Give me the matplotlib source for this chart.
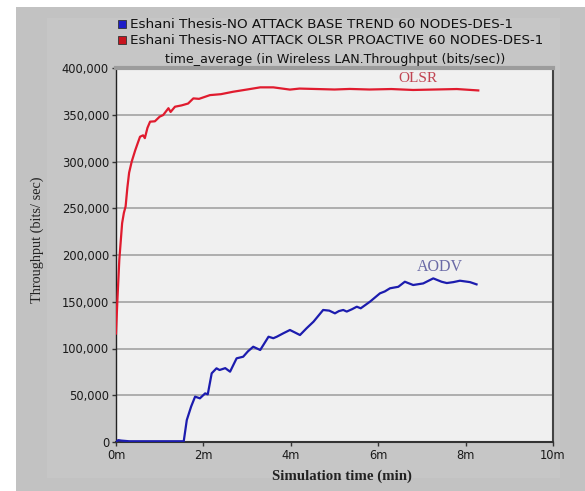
import matplotlib
matplotlib.use("Agg")
import matplotlib.pyplot as plt
from matplotlib.patches import Rectangle
from matplotlib.ticker import FuncFormatter

# Throughput over simulation time (minutes, bits/sec)
olsr_t = [0, 0.03, 0.076, 0.14, 0.18, 0.22, 0.26, 0.30, 0.36, 0.44, 0.50, 0.55,
          0.62, 0.66, 0.72, 0.78, 0.89, 1.0, 1.08, 1.2, 1.25, 1.35, 1.5, 1.65,
          1.77, 1.9, 2.15, 2.4, 2.68, 3.0, 3.3, 3.6, 3.98, 4.2, 4.6, 5.0, 5.35,
          5.8, 6.3, 6.8, 7.3, 7.8, 8.29]
olsr_v = [116000, 150000, 195000, 234000, 245000, 252000, 272000, 288000,
          300000, 312000, 320000, 326500, 328000, 325000, 336000, 342600,
          343000, 348000, 349700, 357000, 353000, 358600, 360000, 362000,
          367500, 367000, 371000, 372000, 374600, 377000, 379300, 379300,
          376900, 378000, 377500, 377000, 377600, 377000, 377500, 376500,
          377000, 377500, 376000]

aodv_t = [0, 0.05, 0.12, 0.3, 1.0, 1.55, 1.62, 1.72, 1.81, 1.92, 2.04, 2.10,
          2.19, 2.30, 2.37, 2.5, 2.61, 2.76, 2.91, 3.02, 3.14, 3.30, 3.49, 3.60,
          3.68, 3.83, 3.98, 4.10, 4.21, 4.36, 4.52, 4.74, 4.88, 5.01, 5.10, 5.20,
          5.28, 5.40, 5.51, 5.60, 5.81, 6.04, 6.15, 6.27, 6.46, 6.61, 6.80, 7.03,
          7.26, 7.45, 7.57, 7.72, 7.87, 8.1, 8.25]
aodv_v = [0, 2000, 1500, 800, 800, 800, 23500, 38000, 48500, 46700, 52000,
          51000, 73500, 78800, 77000, 79000, 75200, 89500, 91200, 97000,
          101900, 98400, 112600, 111000, 112600, 116300, 119800, 117000,
          114400, 121600, 128700, 141200, 140500, 137600, 140000, 141200,
          139500, 142000, 144700, 143000, 150000, 159000, 161000, 164400,
          166000, 171400, 167900, 169600, 175000, 171400, 170000, 171000,
          172500, 171000, 168600]

x_ticks = [0, 2, 4, 6, 8, 10]
x_tick_labels = ["0m", "2m", "4m", "6m", "8m", "10m"]
y_ticks = [0, 50000, 100000, 150000, 200000, 250000, 300000, 350000, 400000]

legend_labels = ["Eshani Thesis-NO ATTACK BASE TREND 60 NODES-DES-1",
                 "Eshani Thesis-NO ATTACK OLSR PROACTIVE 60 NODES-DES-1"]
title = "time_average (in Wireless LAN.Throughput (bits/sec))"

W, H = 585, 491
AX_L, AX_R, AX_T, AX_B = 116, 553, 68, 442
fig = plt.figure(figsize=(W / 100, H / 100), dpi=100, facecolor="white")

def fx(px):
    return px / W

def fy(py):
    return (H - py) / H

def ax_x(px):
    return (px - AX_L) / (AX_R - AX_L)

def ax_y(py):
    return (AX_B - py) / (AX_B - AX_T)

# grey panel behind everything
fig.patches.append(Rectangle((fx(16), 0), 1 - fx(16), fy(7), transform=fig.transFigure,
                             facecolor="#c2c2c2", edgecolor="none", zorder=-2))
fig.patches.append(Rectangle((fx(47), fy(478)), fx(560) - fx(47), fy(18) - fy(478),
                             transform=fig.transFigure,
                             facecolor="#c6c6c6", edgecolor="none", zorder=-1))

ax = fig.add_axes([fx(AX_L), fy(AX_B), fx(AX_R) - fx(AX_L), fy(AX_T) - fy(AX_B)])
ax.set_zorder(2)
ax.set_facecolor("#f0f0f0")
ax.set_xlim(0, 10)
ax.set_ylim(0, 400000)

for y in y_ticks[1:-1]:
    ax.axhline(y, color="#a9a9a9", lw=1.3, zorder=1)

ax.plot(olsr_t, olsr_v, color="#e01b2e", lw=1.6, zorder=3)
ax.plot(aodv_t, aodv_v, color="#1c1cae", lw=1.6, zorder=3)

ax.text(6.91, 389000, "OLSR", color="#c04452", fontsize=11,
        family="Liberation Serif", ha="center", va="center")
ax.text(7.41, 187000, "AODV", color="#6a6aa6", fontsize=11.5,
        family="Liberation Serif", ha="center", va="center")

ax.set_xticks(x_ticks)
ax.set_xticklabels(x_tick_labels)
ax.set_yticks(y_ticks)
ax.yaxis.set_major_formatter(FuncFormatter(lambda v, p: f"{int(v):,}"))
ax.tick_params(axis="both", direction="out", length=3, width=1, color="#333333",
               labelsize=8.3, labelcolor="#1a1a1a", pad=2)
for lab in ax.get_xticklabels() + ax.get_yticklabels():
    lab.set_family("DejaVu Sans")

ax.spines["left"].set_color("#222222")
ax.spines["left"].set_linewidth(1.0)
ax.spines["bottom"].set_color("#333333")
ax.spines["bottom"].set_linewidth(1.5)
ax.spines["right"].set_color("#444444")
ax.spines["right"].set_linewidth(1.5)
ax.spines["top"].set_color("#9c9c9c")
ax.spines["top"].set_linewidth(3)

ax.set_ylabel("Throughput (bits/ sec)", family="Liberation Serif", fontsize=10.3,
              color="#222222", va="center")
ax.yaxis.set_label_coords(ax_x(37), ax_y(240))
ax.set_xlabel("Simulation time (min)", family="Liberation Serif", fontsize=10.7,
              fontweight="bold", color="#222222", va="center")
ax.xaxis.set_label_coords(ax_x(342), ax_y(476))

fig.text(fx(335), fy(59), title, ha="center", va="center", fontsize=9.1,
         family="DejaVu Sans", color="#111111")

for i, (lab, col) in enumerate(zip(legend_labels, ["#1e1ec8", "#c8141e"])):
    yc = 24 + 16 * i
    fig.patches.append(Rectangle((fx(118), fy(yc + 4)), fx(8), fy(0) - fy(8),
                                 transform=fig.transFigure, facecolor=col,
                                 edgecolor="#333333", lw=0.6, zorder=2))
    fig.text(fx(130), fy(yc), lab, ha="left", va="center", fontsize=9.7,
             family="DejaVu Sans", color="#111111")

fig.savefig("out.png", dpi=100, facecolor="white")
